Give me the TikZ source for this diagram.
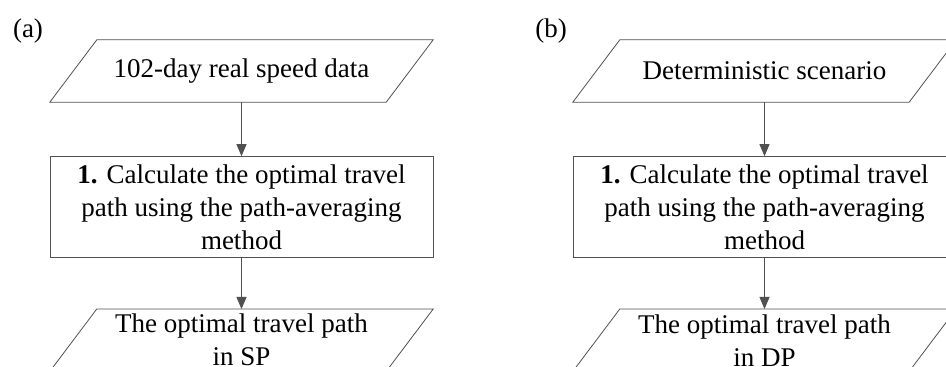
\documentclass[tikz,border=0pt]{standalone}
\usepackage{fontspec}
\setmainfont{Liberation Serif}
\usetikzlibrary{arrows.meta,positioning,calc}

\definecolor{linegray}{RGB}{80,80,80}

\tikzset{
  iobox/.style={rectangle, minimum width=336pt, minimum height=62pt, inner sep=0pt, align=center},
  ioline/.style={draw=linegray, line width=0.8pt},
  procbox/.style={rectangle, draw=linegray, line width=0.8pt,
    minimum width=383pt, minimum height=101pt, inner sep=0pt, align=center},
  flow/.style={draw=linegray, line width=0.8pt, -{Triangle[length=12pt,width=10pt]}},
  panel/.style={inner sep=0pt}
}

% slanted data box round a named iobox node
\newcommand{\drawdata}[1]{%
  \draw[ioline] ($(#1.north west)+(23.5,0)$) -- ($(#1.north east)+(23.5,0)$)
    -- ($(#1.south east)-(23.5,0)$) -- ($(#1.south west)-(23.5,0)$) -- cycle;}

\begin{document}
\begin{tikzpicture}[x=1pt, y=1pt, font=\fontsize{27}{33}\selectfont]
  \useasboundingbox (0,0) rectangle (946,367);
  \clip (0,0) rectangle (946,367);

  % panel (a)
  \node[panel] (laba) at (28,336) {(a)};
  \node[iobox] (ina) at (241.5,296) {102-day real speed data};
  \node[procbox, below=54pt of ina] (calca) {\textbf{1.} Calculate the optimal travel\\path using the path-averaging\\method};
  \node[iobox, below=51pt of calca] (outa) {The optimal travel path\\in SP};
  \drawdata{ina}
  \drawdata{outa}
  \draw[flow] (ina) -- (calca);
  \draw[flow] (calca) -- (outa);

  % panel (b)
  \node[panel] (labb) at (551,336) {(b)};
  \node[iobox] (inb) at (764.5,296) {Deterministic scenario};
  \node[procbox, below=54pt of inb] (calcb) {\textbf{1.} Calculate the optimal travel\\path using the path-averaging\\method};
  \node[iobox, below=51pt of calcb] (outb) {The optimal travel path\\in DP};
  \drawdata{inb}
  \drawdata{outb}
  \draw[flow] (inb) -- (calcb);
  \draw[flow] (calcb) -- (outb);
\end{tikzpicture}
\end{document}
